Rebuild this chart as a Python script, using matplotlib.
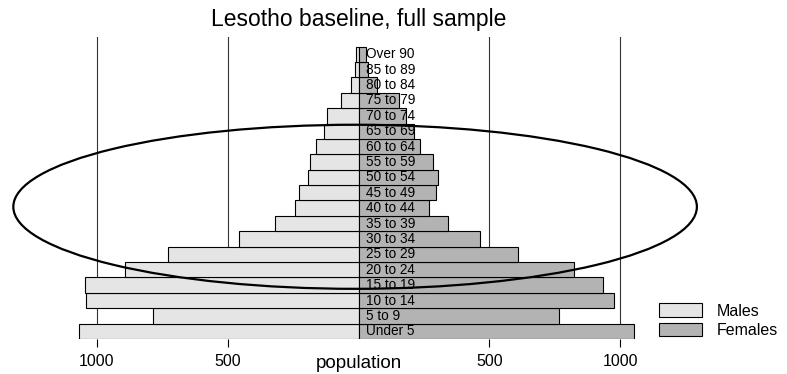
import matplotlib
matplotlib.use("Agg")
import matplotlib.pyplot as plt
from matplotlib.patches import Ellipse, Patch

plt.rcParams['font.family'] = ['Liberation Sans', 'DejaVu Sans']

age_groups = ["Under 5", "5 to 9", "10 to 14", "15 to 19", "20 to 24", "25 to 29",
              "30 to 34", "35 to 39", "40 to 44", "45 to 49", "50 to 54", "55 to 59",
              "60 to 64", "65 to 69", "70 to 74", "75 to 79", "80 to 84", "85 to 89",
              "Over 90"]
males = [1067, 784, 1041, 1046, 892, 728, 457, 321, 244, 227, 195, 184,
         163, 132, 119, 66, 30, 12, 8]
females = [1053, 768, 978, 936, 826, 610, 464, 343, 268, 296, 305, 286,
           234, 213, 181, 156, 71, 36, 28]
tick_values = [-1000, -500, 500, 1000]
tick_labels = ["1000", "500", "500", "1000"]
grid_values = [-1000, -500, 500, 1000]

W, H = 787, 374
fig = plt.figure(figsize=(W / 100, H / 100), dpi=100)
# axes: bottom at 339 px, top at 37 px, full width
ax = fig.add_axes([0.0, 1 - 339 / H, 1.0, (339 - 37) / H])
ax.set_xlim(-358.5 / 0.2615, (W - 358.5) / 0.2615)
ax.set_ylim(-0.5, -0.5 + (339 - 37) / 15.39)

for g in grid_values:
    ax.axvline(g, color='#333333', lw=0.8, zorder=1)

y = list(range(len(age_groups)))
ax.barh(y, [-m for m in males], height=1.0, color='#e5e5e5', edgecolor='black',
        linewidth=0.8, zorder=2)
ax.barh(y, females, height=1.0, color='#b3b3b3', edgecolor='black',
        linewidth=0.8, zorder=2)

for i, lab in enumerate(age_groups):
    ax.annotate(lab, (0, i), xytext=(5.6, 0), textcoords='offset points',
                va='center', ha='left', fontsize=9.8, zorder=4)

ell = Ellipse((-13, 8.09), width=2614, height=10.66, fill=False,
              edgecolor='black', lw=1.6, zorder=5, clip_on=False)
ax.add_patch(ell)

for s in ax.spines.values():
    s.set_visible(False)
ax.set_yticks([])
ax.set_xticks(tick_values)
ax.set_xticklabels(tick_labels, fontsize=11.5)
ax.tick_params(axis='x', direction='out', length=6, width=0.8, pad=5,
               color='black')

fig.text(358.5 / W, 1 - 363 / H, "population", ha='center', va='center',
         fontsize=13.5)
fig.text(358.5 / W, 1 - 19.5 / H, "Lesotho baseline, full sample", ha='center',
         va='center', fontsize=16.5)

handles = [Patch(facecolor='#e5e5e5', edgecolor='black', linewidth=0.8, label='Males'),
           Patch(facecolor='#b3b3b3', edgecolor='black', linewidth=0.8, label='Females')]
fig.legend(handles=handles, loc='upper left', bbox_to_anchor=(656 / W, 1 - 300 / H),
           frameon=False, fontsize=11.5, handlelength=2.7, handleheight=0.95,
           handletextpad=0.9, labelspacing=0.25, borderaxespad=0, borderpad=0.2)

fig.savefig("out.png", dpi=100)
